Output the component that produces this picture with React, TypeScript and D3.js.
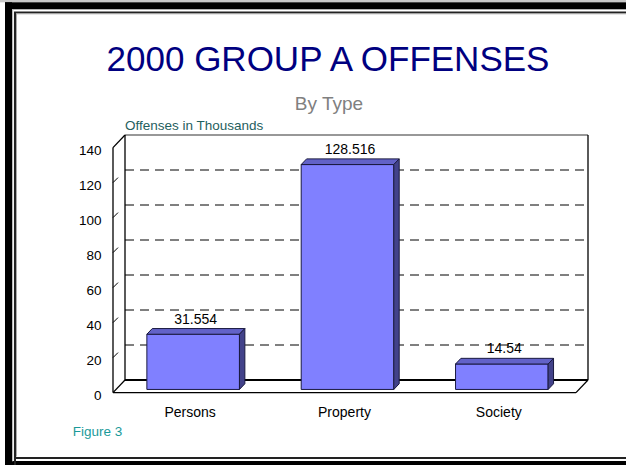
import React from "react";
import * as d3 from "d3";

const categories = ["Persons", "Property", "Society"];
const values = [31.554, 128.516, 14.54];
const valueLabels = ["31.554", "128.516", "14.54"];
const yTicks = [0, 20, 40, 60, 80, 100, 120, 140];

const W = 626;
const H = 465;

export default function App() {
  const left = 113;
  const right = 576;
  const F0 = 392.6; // front-plane zero
  const DX = 12;
  const DY = -12.6;
  const x = d3.scaleBand<string>().domain(categories).range([left, right]).paddingInner(0.4).paddingOuter(0.2);
  const h = d3.scaleLinear().domain([0, 140]).range([0, 245]);
  const P = (px: number, v: number, z: number): [number, number] => [px + DX * z, F0 + DY * z - h(v)];
  const zF = 0.25;
  const zB = 0.7;
  const pt = (p: [number, number]) => `${p[0]},${p[1]}`;
  const font = "Liberation Sans, Arial, sans-serif";

  const backL = P(left, 0, 1);
  const backR = P(right, 0, 1);
  const backTopL = P(left, 140, 1);
  const backTopR = P(right, 140, 1);

  return (
    <svg width={W} height={H} style={{ position: "absolute", left: 0, top: 0, background: "#fff" }} fontFamily={font}>
      {/* frame */}
      <rect x={0} y={0} width={W} height={2.3} fill="#c8c8c8" />
      <rect x={5} y={2.3} width={W} height={7} fill="#000" />
      <rect x={5} y={2.3} width={7} height={H} fill="#000" />
      <rect x={5} y={461} width={W} height={4} fill="#000" />
      <rect x={12} y={9.3} width={1.2} height={452} fill="#bbb" />
      <path d={`M15,${H} V12.5 H${W}`} fill="none" stroke="#222" strokeWidth={2} />
      <path d={`M15,458 H${W}`} fill="none" stroke="#222" strokeWidth={2} />
      <path d={`M16.5,456.5 V13.8 H${W}`} fill="none" stroke="#aaa" strokeWidth={1} />

      {/* titles */}
      <text x={328} y={71} textAnchor="middle" fontSize={35} fill="#000080">2000 GROUP A OFFENSES</text>
      <text x={329} y={109.5} textAnchor="middle" fontSize={19} fill="#808080">By Type</text>
      <text x={125} y={129.5} fontSize={13.5} fill="#1f6060">Offenses in Thousands</text>

      {/* back wall gridlines */}
      {yTicks.filter((t) => t > 0 && t < 140).map((t) => {
        const a = P(left, t, 1);
        const b = P(right, t, 1);
        return <line key={t} x1={a[0]} y1={a[1]} x2={b[0]} y2={b[1]} stroke="#000" strokeWidth={1} strokeDasharray="9,6" />;
      })}
      {/* back wall outline */}
      <line x1={backTopL[0]} y1={backTopL[1]} x2={backTopR[0]} y2={backTopR[1]} stroke="#333" strokeWidth={1.2} />
      <line x1={backL[0]} y1={backL[1]} x2={backTopL[0]} y2={backTopL[1]} stroke="#000" strokeWidth={1.3} />
      <line x1={backR[0]} y1={backR[1]} x2={backTopR[0]} y2={backTopR[1]} stroke="#000" strokeWidth={1.3} />
      <line x1={backL[0]} y1={backL[1]} x2={backR[0]} y2={backR[1]} stroke="#000" strokeWidth={2} />
      {/* floor */}
      <line x1={left} y1={F0} x2={right} y2={F0} stroke="#000" strokeWidth={1.3} />
      <line x1={left} y1={F0} x2={backL[0]} y2={backL[1]} stroke="#000" strokeWidth={1.3} />
      <line x1={right} y1={F0} x2={backR[0]} y2={backR[1]} stroke="#000" strokeWidth={1.3} />
      {/* front-left axis */}
      <line x1={left} y1={F0} x2={left} y2={F0 - h(140)} stroke="#000" strokeWidth={1.3} />
      <line x1={left} y1={F0 - h(140)} x2={backTopL[0]} y2={backTopL[1]} stroke="#000" strokeWidth={1.3} />
      {yTicks.map((t) => (
        <g key={t}>
          {t > 0 && t < 140 && (
            <line x1={left} y1={F0 - h(t)} x2={left + 5} y2={F0 - h(t) - 5} stroke="#000" strokeWidth={1} />
          )}
          <text x={101.5} y={F0 - h(t) + 7.3} textAnchor="end" fontSize={13.5} fill="#000">{t}</text>
        </g>
      ))}

      {/* bars */}
      {categories.map((c, i) => {
        const x0 = x(c)!;
        const x1 = x0 + x.bandwidth();
        const v = values[i];
        const fbl = P(x0, 0, zF), fbr = P(x1, 0, zF), ftr = P(x1, v, zF), ftl = P(x0, v, zF);
        const btl = P(x0, v, zB), btr = P(x1, v, zB), bbr = P(x1, 0, zB);
        return (
          <g key={c} stroke="#1a1a40" strokeWidth={1} strokeLinejoin="round">
            <polygon points={[fbl, fbr, ftr, ftl].map(pt).join(" ")} fill="#8080ff" />
            <polygon points={[ftl, ftr, btr, btl].map(pt).join(" ")} fill="#6262c8" />
            <polygon points={[fbr, bbr, btr, ftr].map(pt).join(" ")} fill="#42428a" />
            <text x={(x0 + x1) / 2 + 5.5} y={btl[1] - 5} textAnchor="middle" fontSize={14} fill="#000" stroke="none">{valueLabels[i]}</text>
            <text x={(x0 + x1) / 2} y={417} textAnchor="middle" fontSize={14} fill="#000" stroke="none">{c}</text>
          </g>
        );
      })}

      <text x={72.7} y={435.7} fontSize={13.5} fill="#1a9a9a">Figure 3</text>
    </svg>
  );
}
